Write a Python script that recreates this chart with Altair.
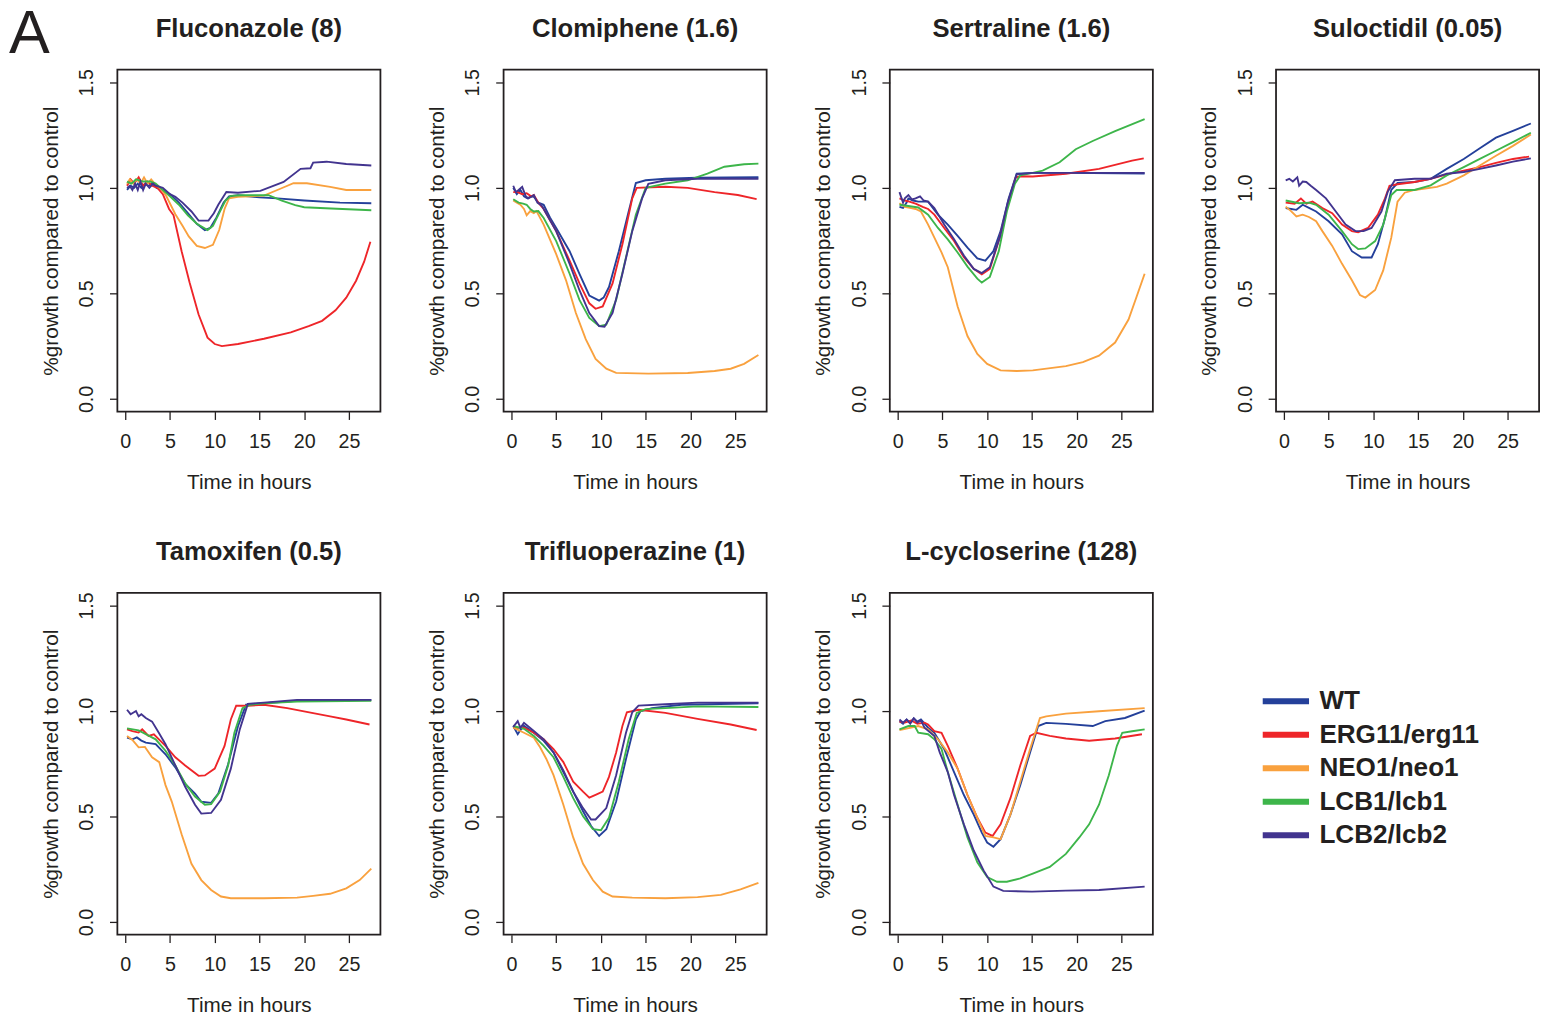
import altair as alt
import pandas as pd

STRAINS = ["WT", "ERG11/erg11", "NEO1/neo1", "LCB1/lcb1", "LCB2/lcb2"]
COLORS = ["#24409A", "#EE2529", "#F9A13E", "#3DB54A", "#42348F"]
X_TICKS = [0, 5, 10, 15, 20, 25]
Y_TICKS = [0.0, 0.5, 1.0, 1.5]
PANEL_TITLES = ["Fluconazole (8)", "Clomiphene (1.6)", "Sertraline (1.6)", "Suloctidil (0.05)",
                "Tamoxifen (0.5)", "Trifluoperazine (1)", "L-cycloserine (128)"]
FIGURE_LABEL = ["A"]

# ---- Fluconazole (8) ----
FLU_WT = [(0.2,0.99),(0.6,1.01),(1.0,1.0),(1.4,1.02),(1.8,1.0),(2.2,1.02),(2.6,1.01),(3.0,1.02),(3.5,1.0),(4.2,0.99),(5.0,0.97),(6.0,0.93),(7.0,0.88),(8.0,0.83),(8.9,0.80),(9.5,0.81),(10.2,0.86),(11.0,0.93),(11.6,0.96),(12.6,0.965),(15.0,0.955),(17.0,0.95),(20.0,0.94),(24.0,0.93),(27.5,0.927)]
FLU_ERG = [(0.2,1.01),(0.6,1.04),(1.0,1.02),(1.5,1.05),(2.0,1.01),(2.5,1.03),(3.0,1.01),(3.6,1.0),(4.2,0.97),(4.9,0.90),(5.4,0.87),(6.3,0.70),(7.2,0.55),(8.2,0.40),(9.2,0.29),(10.0,0.26),(10.8,0.25),(12.6,0.26),(15.5,0.285),(18.5,0.315),(20.5,0.345),(22.0,0.37),(23.5,0.42),(24.7,0.48),(25.8,0.56),(26.7,0.65),(27.4,0.745)]
FLU_NEO = [(0.2,1.02),(0.5,1.04),(0.9,1.02),(1.3,1.04),(1.7,1.02),(2.1,1.05),(2.5,1.02),(2.9,1.04),(3.3,1.02),(4.1,0.99),(4.6,0.96),(5.6,0.875),(6.4,0.82),(7.1,0.77),(8.0,0.725),(8.9,0.715),(9.8,0.73),(10.5,0.80),(11.1,0.90),(11.6,0.95),(12.6,0.958),(15.5,0.963),(17.4,0.997),(18.8,1.022),(20.3,1.022),(22.9,1.005),(24.7,0.99),(27.5,0.99)]
FLU_LCB1 = [(0.2,1.03),(0.7,1.02),(1.2,1.04),(2.0,1.03),(2.8,1.03),(3.4,1.02),(4.2,0.99),(5.0,0.96),(6.0,0.92),(7.0,0.87),(8.0,0.83),(9.2,0.80),(9.8,0.82),(10.5,0.88),(11.2,0.94),(11.8,0.962),(13.0,0.965),(16.0,0.965),(17.5,0.94),(19.0,0.918),(20.0,0.908),(23.0,0.902),(27.5,0.894)]
FLU_LCB2 = [(0.2,1.0),(0.5,1.01),(0.8,0.99),(1.1,1.02),(1.4,0.99),(1.7,1.03),(2.0,0.99),(2.3,1.02),(2.7,1.0),(3.1,1.02),(3.4,1.01),(4.2,1.0),(5.0,0.97),(5.6,0.958),(6.4,0.93),(7.4,0.888),(8.2,0.845),(9.3,0.845),(9.9,0.88),(10.4,0.92),(11.3,0.98),(12.6,0.977),(15.1,0.986),(17.7,1.028),(19.6,1.09),(20.7,1.093),(21.0,1.12),(22.5,1.124),(24.7,1.113),(27.5,1.106)]

# ---- Clomiphene (1.6) ----
CLO_WT = [(0.2,1.0),(0.6,0.97),(1.0,0.99),(1.4,0.96),(1.8,0.95),(2.2,0.96),(2.5,0.958),(3.0,0.93),(3.6,0.92),(4.3,0.86),(5.0,0.81),(6.5,0.70),(7.6,0.593),(8.7,0.49),(9.8,0.466),(10.3,0.48),(10.9,0.53),(12.0,0.70),(13.1,0.888),(13.9,1.023),(15.0,1.036),(17.2,1.043),(20.8,1.048),(27.6,1.05)]
CLO_ERG = [(0.2,0.98),(0.7,0.98),(1.2,0.97),(1.7,0.975),(2.2,0.96),(2.5,0.966),(3.0,0.93),(3.6,0.90),(5.0,0.795),(6.5,0.655),(7.6,0.547),(8.7,0.453),(9.4,0.427),(10.2,0.438),(11.3,0.547),(12.4,0.733),(13.5,0.95),(14.0,1.0),(17.2,1.005),(19.7,1.0),(22.7,0.98),(25.3,0.966),(27.4,0.947)]
CLO_NEO = [(0.2,0.94),(0.6,0.93),(1.0,0.92),(1.4,0.90),(1.7,0.87),(2.1,0.89),(2.5,0.88),(2.8,0.89),(3.6,0.826),(5.0,0.686),(6.1,0.562),(7.2,0.407),(8.3,0.283),(9.4,0.189),(10.6,0.143),(11.7,0.123),(15.3,0.12),(19.7,0.123),(22.7,0.132),(24.5,0.143),(26.0,0.166),(27.6,0.208)]
CLO_LCB1 = [(0.2,0.946),(0.8,0.93),(1.3,0.925),(1.7,0.92),(2.1,0.90),(2.5,0.888),(3.0,0.89),(3.6,0.857),(5.0,0.748),(6.5,0.593),(7.6,0.469),(8.7,0.384),(9.8,0.345),(10.6,0.352),(11.7,0.469),(12.8,0.671),(13.9,0.873),(15.0,1.0),(17.2,1.02),(19.7,1.036),(21.9,1.067),(23.8,1.10),(26.0,1.112),(27.6,1.115)]
CLO_LCB2 = [(0.2,1.01),(0.5,0.98),(0.8,0.99),(1.2,1.005),(1.6,0.96),(1.9,0.95),(2.3,0.96),(2.5,0.966),(2.9,0.93),(3.4,0.915),(4.0,0.87),(5.0,0.795),(6.5,0.64),(7.6,0.515),(8.7,0.407),(9.8,0.345),(10.4,0.342),(11.3,0.407),(12.4,0.593),(13.5,0.795),(14.6,0.95),(15.3,1.019),(17.2,1.036),(20.8,1.043),(27.6,1.043)]

# ---- Sertraline (1.6) ----
SER_WT = [(0.2,0.91),(0.6,0.905),(1.0,0.93),(1.2,0.95),(1.7,0.94),(2.3,0.935),(3.4,0.935),(4.5,0.873),(5.6,0.826),(6.7,0.772),(7.8,0.717),(8.9,0.666),(9.8,0.655),(10.7,0.70),(11.5,0.795),(12.4,0.95),(13.3,1.067),(15.1,1.071),(18.8,1.071),(27.6,1.068)]
SER_ERG = [(0.2,0.95),(0.8,0.94),(1.3,0.935),(2.0,0.925),(2.8,0.91),(3.4,0.90),(4.1,0.873),(5.2,0.81),(6.3,0.748),(7.4,0.671),(8.5,0.616),(9.4,0.59),(10.3,0.616),(11.4,0.764),(12.3,0.919),(13.2,1.05),(13.7,1.055),(15.1,1.054),(18.8,1.067),(22.5,1.09),(26.2,1.129),(27.5,1.14)]
SER_NEO = [(0.2,0.927),(0.8,0.91),(1.5,0.904),(2.0,0.90),(2.6,0.888),(3.4,0.826),(4.1,0.764),(4.9,0.694),(5.6,0.624),(6.7,0.438),(7.8,0.298),(8.9,0.213),(10.0,0.166),(11.5,0.135),(13.3,0.132),(15.1,0.135),(18.8,0.155),(20.7,0.174),(22.5,0.205),(24.3,0.267),(25.8,0.376),(26.7,0.484),(27.6,0.593)]
SER_LCB1 = [(0.2,0.92),(1.0,0.915),(2.3,0.907),(3.4,0.873),(4.5,0.81),(5.6,0.756),(6.7,0.694),(7.8,0.627),(8.9,0.57),(9.4,0.551),(10.3,0.578),(11.3,0.70),(12.2,0.888),(13.1,1.02),(13.7,1.059),(15.1,1.071),(16.2,1.082),(18.1,1.121),(19.9,1.183),(21.8,1.222),(24.3,1.269),(27.6,1.326)]
SER_LCB2 = [(0.2,0.98),(0.6,0.93),(0.8,0.95),(1.2,0.966),(1.6,0.945),(2.0,0.95),(2.5,0.96),(2.9,0.94),(3.4,0.935),(4.1,0.904),(5.2,0.826),(6.3,0.756),(7.4,0.679),(8.5,0.616),(9.4,0.596),(10.3,0.624),(11.4,0.764),(12.3,0.93),(13.3,1.064),(15.1,1.071),(27.6,1.071)]

# ---- Suloctidil (0.05) ----
SUL_WT = [(0.2,0.904),(0.8,0.90),(1.4,0.896),(2.1,0.92),(2.8,0.905),(3.6,0.888),(5.0,0.842),(6.5,0.78),(7.6,0.70),(8.7,0.67),(9.8,0.67),(10.5,0.733),(11.3,0.857),(12.0,0.99),(12.7,1.023),(14.6,1.028),(16.4,1.043),(18.2,1.09),(20.1,1.137),(21.9,1.188),(23.7,1.238),(25.6,1.27),(27.6,1.305)]
SUL_ERG = [(0.2,0.93),(1.2,0.925),(1.9,0.95),(2.5,0.925),(3.2,0.935),(4.3,0.904),(5.4,0.88),(6.5,0.826),(7.6,0.795),(8.3,0.79),(9.4,0.81),(10.5,0.873),(11.3,0.95),(11.8,1.01),(12.7,1.017),(14.6,1.028),(16.4,1.043),(18.2,1.064),(20.1,1.082),(21.9,1.098),(23.7,1.118),(25.6,1.137),(27.4,1.148)]
SUL_NEO = [(0.2,0.911),(0.8,0.89),(1.4,0.865),(2.1,0.873),(2.8,0.862),(3.6,0.842),(4.3,0.795),(5.4,0.725),(6.5,0.64),(7.6,0.562),(8.5,0.492),(9.1,0.48),(10.2,0.516),(11.1,0.609),(12.0,0.764),(12.7,0.935),(13.5,0.977),(14.6,0.99),(17.1,1.005),(18.2,1.02),(20.1,1.059),(21.9,1.106),(23.7,1.152),(25.6,1.199),(27.6,1.253)]
SUL_LCB1 = [(0.2,0.94),(1.7,0.927),(2.8,0.93),(3.6,0.92),(5.0,0.873),(6.5,0.795),(7.6,0.733),(8.3,0.71),(9.1,0.713),(10.2,0.748),(11.1,0.826),(12.0,0.966),(12.6,0.99),(14.6,0.99),(16.4,1.012),(18.2,1.059),(20.1,1.098),(21.9,1.137),(23.7,1.176),(25.6,1.217),(27.6,1.261)]
SUL_LCB2 = [(0.2,1.036),(0.6,1.043),(1.0,1.03),(1.5,1.05),(1.7,1.01),(2.1,1.03),(2.5,1.028),(3.0,1.01),(3.6,0.99),(4.7,0.95),(5.8,0.888),(6.9,0.826),(8.0,0.795),(8.9,0.795),(9.8,0.81),(10.9,0.888),(11.6,0.981),(12.4,1.036),(14.6,1.043),(16.4,1.043),(18.2,1.067),(20.1,1.075),(21.9,1.09),(23.7,1.106),(25.6,1.124),(27.6,1.14)]

# ---- Tamoxifen (0.5) ----
TAM_WT = [(0.2,0.874),(0.8,0.866),(1.3,0.875),(1.8,0.86),(2.3,0.85),(3.4,0.843),(4.5,0.795),(5.6,0.733),(6.7,0.655),(7.8,0.609),(8.5,0.57),(9.6,0.565),(10.4,0.609),(11.5,0.748),(12.6,0.928),(13.5,1.03),(15.5,1.037),(19.2,1.048),(27.5,1.053)]
TAM_ERG = [(0.2,0.913),(0.8,0.905),(1.5,0.898),(1.9,0.913),(2.6,0.882),(3.2,0.89),(4.5,0.835),(5.6,0.781),(6.7,0.742),(8.2,0.693),(8.9,0.695),(10.0,0.727),(11.1,0.835),(11.8,0.96),(12.4,1.025),(13.7,1.025),(15.5,1.03),(18.1,1.014),(21.0,0.99),(22.9,0.975),(24.7,0.96),(27.3,0.936)]
TAM_NEO = [(0.2,0.882),(0.8,0.863),(1.5,0.828),(2.2,0.83),(3.0,0.781),(3.8,0.758),(4.5,0.649),(5.2,0.571),(6.3,0.416),(7.4,0.276),(8.5,0.199),(9.6,0.152),(10.7,0.121),(11.8,0.113),(15.5,0.113),(19.2,0.116),(21.0,0.124),(22.9,0.134),(24.7,0.16),(26.2,0.199),(27.5,0.253)]
TAM_LCB1 = [(0.2,0.918),(1.5,0.908),(3.4,0.866),(4.5,0.812),(5.6,0.742),(6.7,0.657),(7.8,0.595),(8.9,0.556),(9.6,0.559),(10.6,0.618),(11.5,0.742),(12.2,0.897),(13.1,1.014),(14.0,1.03),(15.5,1.037),(19.2,1.045),(27.5,1.048)]
TAM_LCB2 = [(0.2,1.006),(0.6,0.985),(1.2,1.0),(1.5,0.975),(1.8,0.985),(2.3,0.967),(3.0,0.95),(3.75,0.897),(4.5,0.843),(5.6,0.742),(6.7,0.641),(7.8,0.556),(8.5,0.514),(9.6,0.517),(10.7,0.579),(11.8,0.727),(12.8,0.913),(13.7,1.034),(15.5,1.04),(19.2,1.053),(27.5,1.053)]

# ---- Trifluoperazine (1) ----
TRI_WT = [(0.2,0.929),(0.7,0.89),(1.0,0.91),(1.4,0.93),(2.5,0.897),(3.6,0.859),(4.7,0.804),(5.8,0.711),(6.9,0.618),(8.0,0.525),(8.9,0.455),(9.8,0.408),(10.6,0.44),(11.7,0.571),(12.8,0.773),(13.9,0.96),(14.4,0.998),(15.7,1.014),(19.0,1.03),(27.6,1.037)]
TRI_ERG = [(0.2,0.921),(1.4,0.921),(2.5,0.897),(3.6,0.866),(4.7,0.82),(5.8,0.758),(6.9,0.665),(8.0,0.618),(8.7,0.59),(9.4,0.603),(10.2,0.618),(10.9,0.688),(11.7,0.804),(12.4,0.929),(12.9,0.994),(14.2,1.006),(17.2,0.991),(20.8,0.963),(24.5,0.936),(27.4,0.91)]
TRI_NEO = [(0.2,0.921),(1.4,0.897),(2.5,0.874),(3.2,0.828),(3.9,0.773),(4.7,0.696),(5.8,0.556),(6.9,0.401),(8.0,0.276),(9.1,0.199),(10.2,0.144),(11.3,0.121),(13.5,0.116),(17.2,0.113),(20.8,0.118),(23.4,0.129),(25.6,0.155),(27.6,0.186)]
TRI_LCB1 = [(0.2,0.929),(1.4,0.916),(2.5,0.882),(3.6,0.835),(4.7,0.781),(5.8,0.688),(6.9,0.587),(8.0,0.502),(9.1,0.44),(10.0,0.435),(10.9,0.494),(12.0,0.665),(13.1,0.866),(14.0,0.991),(15.0,1.009),(17.2,1.014),(20.8,1.022),(27.6,1.019)]
TRI_LCB2 = [(0.2,0.925),(0.7,0.952),(1.0,0.92),(1.4,0.944),(2.5,0.905),(3.6,0.866),(4.7,0.804),(5.8,0.719),(6.9,0.618),(8.0,0.54),(8.9,0.486),(9.4,0.486),(10.6,0.54),(11.7,0.696),(12.8,0.897),(13.5,0.994),(14.2,1.026),(17.2,1.032),(20.8,1.04),(27.6,1.04)]

# ---- L-cycloserine (128) ----
LCY_WT = [(0.2,0.952),(0.6,0.94),(1.0,0.96),(1.4,0.945),(1.8,0.965),(2.2,0.95),(2.6,0.96),(3.4,0.921),(4.1,0.897),(5.2,0.82),(6.3,0.711),(7.4,0.602),(8.5,0.509),(9.4,0.424),(10.0,0.377),(10.7,0.357),(11.5,0.393),(12.6,0.509),(13.7,0.649),(14.8,0.804),(15.7,0.929),(16.6,0.944),(18.8,0.939),(21.8,0.929),(23.2,0.952),(25.4,0.967),(27.6,1.002)]
LCY_ERG = [(0.2,0.95),(0.8,0.945),(1.5,0.955),(2.2,0.94),(3.0,0.945),(3.4,0.936),(4.1,0.905),(4.9,0.897),(5.6,0.835),(6.7,0.727),(7.8,0.602),(8.9,0.494),(9.8,0.424),(10.6,0.408),(11.5,0.463),(12.6,0.587),(13.7,0.742),(14.8,0.882),(15.5,0.897),(17.0,0.882),(18.8,0.87),(21.4,0.859),(24.3,0.87),(27.3,0.89)]
LCY_NEO = [(0.2,0.91),(1.5,0.921),(2.3,0.929),(3.4,0.913),(4.5,0.866),(5.6,0.804),(6.7,0.727),(7.8,0.602),(8.9,0.494),(9.8,0.408),(10.7,0.401),(11.5,0.393),(12.6,0.509),(13.7,0.665),(14.8,0.82),(15.9,0.967),(16.6,0.975),(18.8,0.988),(22.5,0.999),(27.6,1.014)]
LCY_LCB1 = [(0.2,0.913),(1.2,0.929),(1.9,0.929),(2.3,0.897),(3.4,0.89),(4.1,0.866),(4.9,0.82),(5.6,0.711),(6.7,0.556),(7.8,0.401),(8.9,0.283),(10.0,0.213),(11.1,0.191),(12.2,0.191),(13.7,0.207),(15.1,0.23),(17.0,0.261),(18.8,0.323),(20.3,0.401),(21.4,0.463),(22.5,0.556),(23.6,0.696),(24.5,0.835),(25.1,0.897),(26.2,0.904),(27.6,0.913)]
LCY_LCB2 = [(0.2,0.96),(0.6,0.945),(1.0,0.96),(1.4,0.94),(1.8,0.965),(2.2,0.945),(2.6,0.955),(3.0,0.921),(4.1,0.882),(4.7,0.804),(5.6,0.711),(6.3,0.602),(7.4,0.463),(8.5,0.339),(9.6,0.245),(10.7,0.168),(11.8,0.148),(15.0,0.144),(18.8,0.149),(22.5,0.152),(27.6,0.168)]

PANEL_SERIES = [
    [FLU_WT, FLU_ERG, FLU_NEO, FLU_LCB1, FLU_LCB2],
    [CLO_WT, CLO_ERG, CLO_NEO, CLO_LCB1, CLO_LCB2],
    [SER_WT, SER_ERG, SER_NEO, SER_LCB1, SER_LCB2],
    [SUL_WT, SUL_ERG, SUL_NEO, SUL_LCB1, SUL_LCB2],
    [TAM_WT, TAM_ERG, TAM_NEO, TAM_LCB1, TAM_LCB2],
    [TRI_WT, TRI_ERG, TRI_NEO, TRI_LCB1, TRI_LCB2],
    [LCY_WT, LCY_ERG, LCY_NEO, LCY_LCB1, LCY_LCB2],
]

INK = "#231F20"
FONT = "Liberation Sans"


def make_panel(idx, title, series_list):
    rows = []
    for strain, series in zip(STRAINS, series_list):
        for t, v in series:
            rows.append({"strain": strain, "t": t, "v": v})
    df = pd.DataFrame(rows)
    lines = alt.Chart(df).mark_line(strokeWidth=1.9).encode(
        x=alt.X("t:Q",
                scale=alt.Scale(domain=[-0.88, 28.52], nice=False, zero=False),
                axis=alt.Axis(values=X_TICKS, title="Time in hours", labelFlush=False)),
        y=alt.Y("v:Q",
                scale=alt.Scale(domain=[-0.06, 1.56], nice=False, zero=False),
                axis=alt.Axis(values=Y_TICKS, format=".1f", title="%growth compared to control",
                              labelAngle=270, labelAlign="center", labelBaseline="bottom")),
        color=alt.Color("strain:N",
                        scale=alt.Scale(domain=STRAINS, range=COLORS),
                        legend=alt.Legend(orient="none", legendX=1171, legendY=626, title=None,
                                          symbolType="M-2,0H2", symbolSize=552,
                                          symbolStrokeWidth=6, labelFontSize=26.5,
                                          labelFontWeight="bold", labelFont=FONT,
                                          labelColor=INK, labelOffset=19, rowPadding=5,
                                          labelLimit=400)),
    )
    layers = [lines]
    title_dy = 0
    if idx == 0:
        label = alt.Chart(pd.DataFrame({"label": FIGURE_LABEL})).mark_text(
            fontSize=62, font=FONT, color=INK, align="left", baseline="alphabetic"
        ).encode(text="label:N", x=alt.value(-110), y=alt.value(-17))
        layers.append(label)
        title_dy = 66
    return alt.layer(*layers).properties(
        width=267, height=347,
        title=alt.TitleParams(title, fontSize=26, fontWeight="bold", font=FONT, color=INK,
                              frame="group", anchor="middle", baseline="alphabetic",
                              offset=6, dy=title_dy),
    )


panels = [make_panel(i, t, s) for i, (t, s) in enumerate(zip(PANEL_TITLES, PANEL_SERIES))]

chart = alt.concat(
    *panels, columns=4, spacing={"row": 46, "column": 45},
).properties(
    padding={"left": 0, "top": -13, "right": 5, "bottom": 0},
).configure_view(
    stroke=INK, strokeWidth=1.8
).configure_axis(
    domain=False, grid=False, tickColor=INK, tickWidth=1.3, tickSize=8,
    labelFont=FONT, labelFontSize=20, labelColor=INK,
    titleFont=FONT, titleFontSize=21, titleFontWeight="normal", titleColor=INK,
).configure_axisY(
    labelPadding=13, titlePadding=16
).configure_axisX(
    labelPadding=12, titlePadding=21
)

chart.save("out.html", embed_options={"renderer": "svg", "actions": False})
